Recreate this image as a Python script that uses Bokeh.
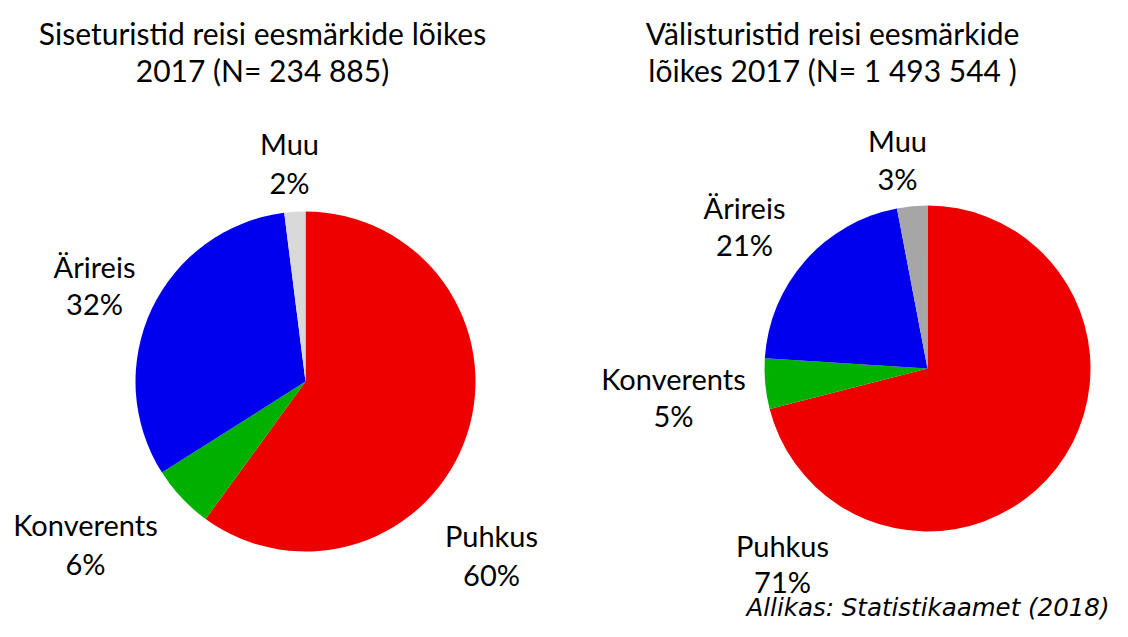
import math
from bokeh.plotting import figure
from bokeh.models import Range1d
from bokeh.core.properties import value
from bokeh.embed import file_html
from bokeh.resources import INLINE

# ---- data ----
categories = ["Puhkus", "Konverents", "Ärireis", "Muu"]
domestic_values = [60, 6, 32, 2]
foreign_values = [71, 5, 21, 3]
domestic_title = ["Siseturistid reisi eesmärkide lõikes", "2017 (N= 234 885)"]
foreign_title = ["Välisturistid reisi eesmärkide", "lõikes 2017 (N= 1 493 544 )"]
source_text = "Allikas: Statistikaamet (2018)"

domestic_colors = ["#EE0000", "#00B000", "#0000EE", "#D9D9D9"]
foreign_colors = ["#EE0000", "#00B000", "#0000EE", "#A6A6A6"]

FW, FH = 1112, 621
FONT = "Lato"

p = figure(width=FW, height=FH, output_backend="svg", toolbar_location=None,
           x_range=Range1d(0, FW), y_range=Range1d(0, FH), min_border=0)
p.axis.visible = False
p.grid.visible = False
p.outline_line_color = None
p.background_fill_color = "white"
p.border_fill_color = "white"


def Y(y):
    return FH - y


def draw_pie(vals, colors, cx, cy, r, label_pos, title, title_x):
    total = float(sum(vals))
    starts, ends = [], []
    acc = 0.0
    for v in vals:
        starts.append(math.pi / 2 - 2 * math.pi * acc / total)
        acc += v
        ends.append(math.pi / 2 - 2 * math.pi * acc / total)
    p.wedge(x=[cx] * len(vals), y=[Y(cy)] * len(vals), radius=r,
            start_angle=starts, end_angle=ends, direction="clock",
            fill_color=colors, line_color=None)
    names_x = [lp[0] for lp in label_pos]
    names_y = [Y(lp[1]) for lp in label_pos]
    pct_y = [Y(lp[2]) for lp in label_pos]
    p.text(x=names_x, y=names_y, text=categories, text_font=value(FONT),
           text_font_size="29px", text_align="center", text_baseline="middle",
           text_color="black")
    p.text(x=names_x, y=pct_y, text=[f"{v}%" for v in vals], text_font=value(FONT),
           text_font_size="29px", text_align="center", text_baseline="middle",
           text_color="black")
    p.text(x=[title_x, title_x], y=[Y(32), Y(69)], text=title, text_font=value(FONT),
           text_font_size="30px", text_align="center", text_baseline="middle",
           text_color="black")


draw_pie(domestic_values, domestic_colors, 305, 381, 170,
         [(491, 535, 574), (85, 524, 563), (94, 266, 303), (289, 143, 182)],
         domestic_title, 262)
draw_pie(foreign_values, foreign_colors, 927, 368, 163,
         [(782, 545, 581), (673, 378, 415), (744, 207, 244), (897, 140, 178)],
         foreign_title, 832)

p.text(x=[1109], y=[Y(607)], text=[source_text], text_font=value("DejaVu Sans"),
       text_font_size="24.5px", text_font_style="italic", text_align="right",
       text_baseline="middle", text_color="black")

open("out.html", "w").write(file_html(p, INLINE))
